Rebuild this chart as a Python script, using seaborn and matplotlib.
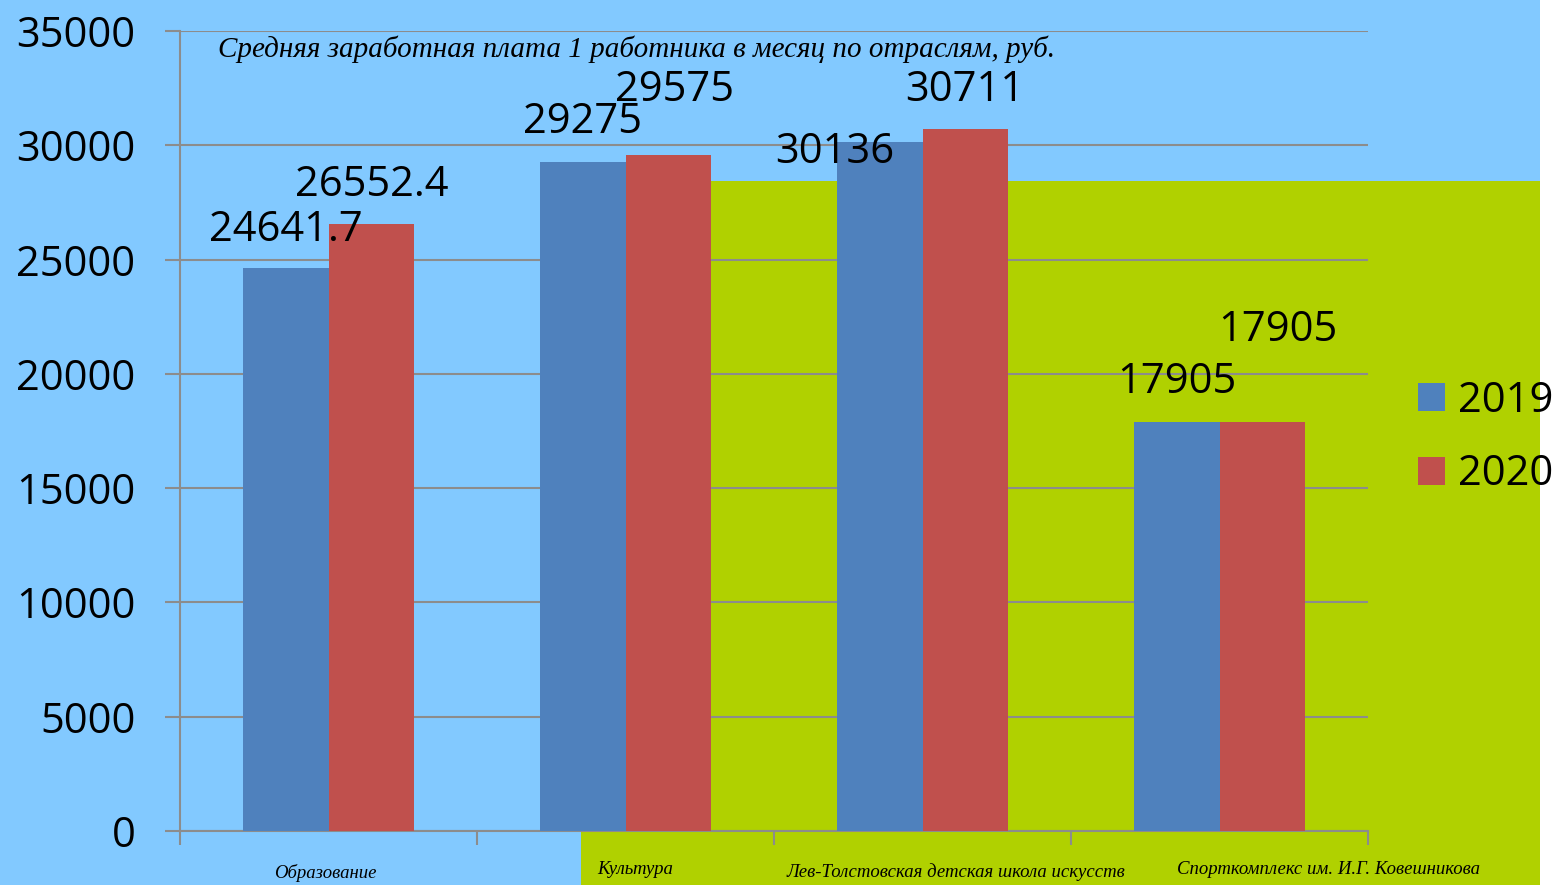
import numpy as np
import pandas as pd
import matplotlib
matplotlib.use("Agg")
import matplotlib.pyplot as plt
import seaborn as sns
from matplotlib.patches import Rectangle

categories = ["Образование", "Культура",
              "Лев-Толстовская детская школа искусств",
              "Спорткомплекс им. И.Г. Ковешникова"]
years = ["2019", "2020"]
values_2019 = [24641.7, 29275, 30136, 17905]
values_2020 = [26552.4, 29575, 30711, 17905]
labels_2019 = ["24641.7", "29275", "30136", "17905"]
labels_2020 = ["26552.4", "29575", "30711", "17905"]
y_ticks = [0, 5000, 10000, 15000, 20000, 25000, 30000, 35000]
title = "Средняя заработная плата 1 работника в месяц по отраслям, руб."

# where the value labels sit relative to the bar top (pixels)
offsets_2019 = [(0, 38), (0, 40), (-45, -10), (0, 40)]
offsets_2020 = [(1, 39), (6, 65), (0, 39), (16, 92)]
cat_label_dx = [-3, 10, 33, 109]
cat_label_dy = [-42, -38, -41, -38]

blue, red = "#4F81BD", "#C0504D"
grid_col = "#8C8C8C"

df = pd.DataFrame({
    "category": categories * 2,
    "year": [years[0]] * len(categories) + [years[1]] * len(categories),
    "value": values_2019 + values_2020,
})

plt.rcParams["font.family"] = ["Open Sans", "DejaVu Sans"]

fig = plt.figure(figsize=(15.57, 8.85), dpi=100)
fig.patch.set_facecolor("white")
# background panels
fig.patches.append(Rectangle((0, 0), 1540 / 1557, 1, transform=fig.transFigure,
                             facecolor="#82C9FF", edgecolor="none", zorder=-10))
fig.patches.append(Rectangle((581 / 1557, 0), (1540 - 581) / 1557, 1 - 181 / 885,
                             transform=fig.transFigure,
                             facecolor="#B0D100", edgecolor="none", zorder=-9))

ax = fig.add_axes([180 / 1557, 1 - 831 / 885, 1188 / 1557, 800 / 885])
ax.set_facecolor("none")

sns.barplot(data=df, x="category", y="value", hue="year",
            palette=[blue, red], width=0.573, saturation=1, ax=ax, zorder=3)

ax.set_xlim(-0.5, len(categories) - 0.5)
ax.set_ylim(0, 35000)
ax.set_yticks(y_ticks)
ax.yaxis.grid(True, color=grid_col, linewidth=1.5, zorder=0)
ax.set_axisbelow(True)
ax.set_xlabel("")
ax.set_ylabel("")
for s in ["top", "right"]:
    ax.spines[s].set_visible(False)
for s in ["left", "bottom"]:
    ax.spines[s].set_color(grid_col)
    ax.spines[s].set_linewidth(1.5)

ax.tick_params(axis="y", length=11, width=1.5, color=grid_col, pad=21, labelsize=30)
ax.set_xticks(range(len(categories)))
ax.set_xticklabels([])
ax.tick_params(axis="x", which="major", length=0)
ax.set_xticks(np.arange(len(categories) + 1) - 0.5, minor=True)
ax.tick_params(axis="x", which="minor", length=10, width=1.5, color=grid_col)

for i, cat in enumerate(categories):
    ax.annotate(cat, xy=(i, 0), xycoords=("data", "axes fraction"),
                xytext=(cat_label_dx[i], cat_label_dy[i]), textcoords="offset pixels",
                ha="center", va="center", fontsize=13.5, style="italic",
                family=["Liberation Serif", "DejaVu Serif"])

for cont, labs, offs in zip(ax.containers, [labels_2019, labels_2020],
                            [offsets_2019, offsets_2020]):
    for bar, lab, (dx, dy) in zip(cont, labs, offs):
        ax.annotate(lab, xy=(bar.get_x() + bar.get_width() / 2, bar.get_height()),
                    xytext=(dx, dy), textcoords="offset pixels",
                    ha="center", va="center", fontsize=30, zorder=5)

ax.text((218 - 180) / 1188, 1 - (49 - 31) / 800, title, transform=ax.transAxes,
        ha="left", va="center", fontsize=21, style="italic",
        family=["Liberation Serif", "DejaVu Serif"])

handles, labels = ax.get_legend_handles_labels()
ax.legend(handles, labels, loc="upper left",
          bbox_to_anchor=(1418 / 1557, 1 - 380 / 885),
          bbox_transform=fig.transFigure, frameon=False, fontsize=30,
          handlelength=0.65, handleheight=0.65, handletextpad=0.3,
          labelspacing=0.75, borderpad=0, borderaxespad=0)

fig.savefig("out.png", dpi=100)
